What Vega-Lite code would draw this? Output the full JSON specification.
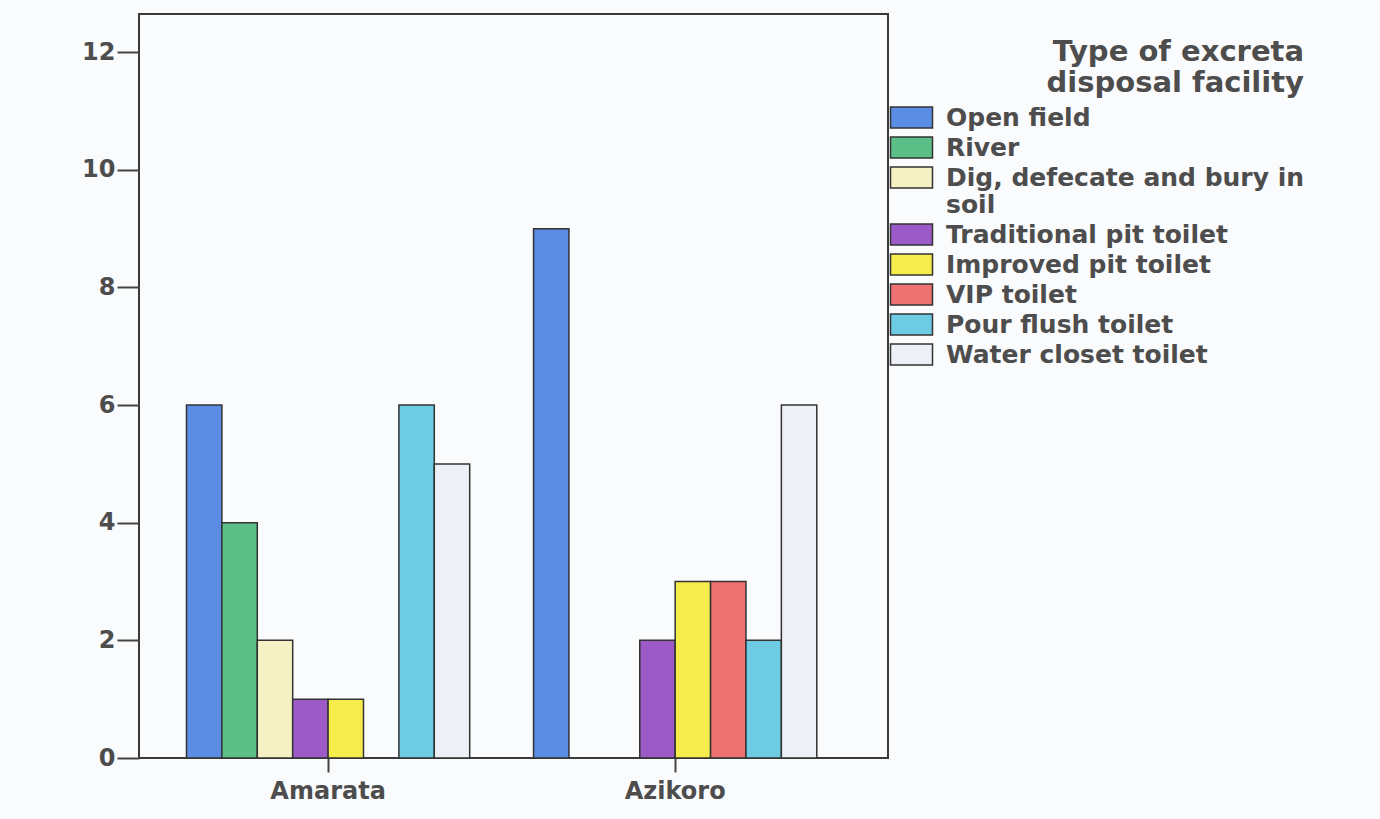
{
  "$schema": "https://vega.github.io/schema/vega-lite/v6.json",
  "autosize": {"type": "none"},
  "padding": {"left": 139, "top": 14, "right": 492, "bottom": 61},
  "width": 749,
  "height": 744,
  "background": "#fafbfc",
  "data": {
    "values": [
      {"site": "Amarata", "facility": "Open field", "count": 6},
      {"site": "Amarata", "facility": "River", "count": 4},
      {"site": "Amarata", "facility": "Dig, defecate and bury in soil", "count": 2},
      {"site": "Amarata", "facility": "Traditional pit toilet", "count": 1},
      {"site": "Amarata", "facility": "Improved pit toilet", "count": 1},
      {"site": "Amarata", "facility": "Pour flush toilet", "count": 6},
      {"site": "Amarata", "facility": "Water closet toilet", "count": 5},
      {"site": "Azikoro", "facility": "Open field", "count": 9},
      {"site": "Azikoro", "facility": "Traditional pit toilet", "count": 2},
      {"site": "Azikoro", "facility": "Improved pit toilet", "count": 3},
      {"site": "Azikoro", "facility": "VIP toilet", "count": 3},
      {"site": "Azikoro", "facility": "Pour flush toilet", "count": 2},
      {"site": "Azikoro", "facility": "Water closet toilet", "count": 6}
    ]
  },
  "mark": {"type": "bar", "stroke": "#333333", "strokeWidth": 1.5, "opacity": 1},
  "encoding": {
    "x": {
      "field": "site",
      "type": "nominal",
      "title": null,
      "scale": {"paddingInner": 0.184, "paddingOuter": 0.171, "align": 0.4},
      "axis": {
        "domain": false,
        "labelAngle": 0,
        "tickSize": 14,
        "tickWidth": 2,
        "tickColor": "#444444",
        "labelPadding": 7,
        "labelFont": "DejaVu Sans",
        "labelFontSize": 24,
        "labelFontWeight": "bold",
        "labelColor": "#4d4d4d"
      }
    },
    "xOffset": {
      "field": "facility",
      "type": "nominal",
      "scale": {
        "domain": ["Open field", "River", "Dig, defecate and bury in soil", "Traditional pit toilet", "Improved pit toilet", "VIP toilet", "Pour flush toilet", "Water closet toilet"],
        "paddingInner": 0,
        "paddingOuter": 0
      }
    },
    "y": {
      "field": "count",
      "type": "quantitative",
      "title": null,
      "scale": {"domain": [0, 12.65], "nice": false},
      "axis": {
        "values": [0, 2, 4, 6, 8, 10, 12],
        "domain": false,
        "grid": false,
        "tickSize": 22,
        "tickWidth": 2,
        "tickColor": "#444444",
        "labelPadding": 2,
        "labelFont": "DejaVu Sans",
        "labelFontSize": 24,
        "labelFontWeight": "bold",
        "labelColor": "#4d4d4d"
      }
    },
    "color": {
      "field": "facility",
      "type": "nominal",
      "scale": {
        "domain": ["Open field", "River", "Dig, defecate and bury in soil", "Traditional pit toilet", "Improved pit toilet", "VIP toilet", "Pour flush toilet", "Water closet toilet"],
        "range": ["#5b8de4", "#5cbf87", "#f6f1c4", "#9c5ac6", "#f6ec4c", "#ef7272", "#6dcbe4", "#eef0f7"]
      },
      "legend": {
        "orient": "none",
        "legendX": 760,
        "legendY": 24,
        "title": ["Type of excreta", "disposal facility"],
        "titleFont": "DejaVu Sans",
        "titleFontSize": 29,
        "titleFontWeight": "bold",
        "titleColor": "#4d4d4d",
        "titleAnchor": "end",
        "titleAlign": "right",
        "titleLineHeight": 31,
        "titlePadding": 7,
        "titleLimit": 600,
        "labelLimit": 600,
        "labelFont": "DejaVu Sans",
        "labelFontSize": 25,
        "labelFontWeight": "bold",
        "labelColor": "#4d4d4d",
        "labelOffset": 22,
        "symbolType": "M-2,-1H2V1H-2Z",
        "symbolSize": 441,
        "symbolStrokeColor": "#333333",
        "symbolStrokeWidth": 1.5,
        "symbolOpacity": 1,
        "rowPadding": 3,
        "labelExpr": "datum.label == 'Dig, defecate and bury in soil' ? ['Dig, defecate and bury in', 'soil'] : datum.label"
      }
    }
  },
  "config": {
    "view": {"stroke": "#3a3a3a", "strokeWidth": 2}
  }
}
